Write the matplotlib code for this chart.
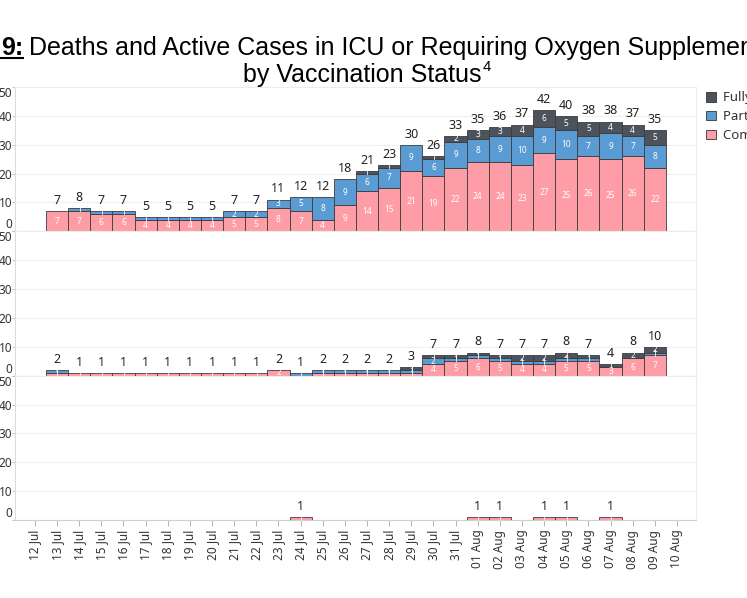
import matplotlib
matplotlib.use("Agg")
import matplotlib.pyplot as plt
from matplotlib import font_manager
from matplotlib.patches import Patch
from matplotlib.lines import Line2D
import numpy as np

# --- данные ---
tick_labels = ["12 Jul", "13 Jul", "14 Jul", "15 Jul", "16 Jul", "17 Jul", "18 Jul",
               "19 Jul", "20 Jul", "21 Jul", "22 Jul", "23 Jul", "24 Jul", "25 Jul",
               "26 Jul", "27 Jul", "28 Jul", "29 Jul", "30 Jul", "31 Jul", "01 Aug",
               "02 Aug", "03 Aug", "04 Aug", "05 Aug", "06 Aug", "07 Aug", "08 Aug",
               "09 Aug", "10 Aug"]
bar_dates = ["13 Jul", "14 Jul", "15 Jul", "16 Jul", "17 Jul", "18 Jul", "19 Jul",
             "20 Jul", "21 Jul", "22 Jul", "23 Jul", "24 Jul", "25 Jul", "26 Jul",
             "27 Jul", "28 Jul", "29 Jul", "30 Jul", "31 Jul", "01 Aug", "02 Aug",
             "03 Aug", "04 Aug", "05 Aug", "06 Aug", "07 Aug", "08 Aug", "09 Aug"]

# верхняя панель
top_unvax = [7, 7, 6, 6, 4, 4, 4, 4, 5, 5, 8, 7, 4, 9, 14, 15, 21, 19, 22, 24, 24, 23, 27, 25, 26, 25, 26, 22]
top_part = [0, 1, 1, 1, 1, 1, 1, 1, 2, 2, 3, 5, 8, 9, 6, 7, 9, 6, 9, 8, 9, 10, 9, 10, 7, 9, 7, 8]
top_full = [0, 0, 0, 0, 0, 0, 0, 0, 0, 0, 0, 0, 0, 0, 1, 1, 0, 1, 2, 3, 3, 4, 6, 5, 5, 4, 4, 5]

# средняя панель
mid_unvax = [1, 1, 1, 1, 1, 1, 1, 1, 1, 1, 2, 0, 1, 1, 1, 1, 1, 4, 5, 6, 5, 4, 4, 5, 5, 3, 6, 7]
mid_part = [1, 0, 0, 0, 0, 0, 0, 0, 0, 0, 0, 1, 1, 1, 1, 1, 1, 2, 1, 1, 1, 1, 1, 1, 1, 0, 0, 1]
mid_full = [0, 0, 0, 0, 0, 0, 0, 0, 0, 0, 0, 0, 0, 0, 0, 0, 1, 1, 1, 1, 1, 2, 2, 2, 1, 1, 2, 2]

# нижняя панель
bot_unvax = [0, 0, 0, 0, 0, 0, 0, 0, 0, 0, 0, 1, 0, 0, 0, 0, 0, 0, 0, 1, 1, 0, 1, 1, 0, 1, 0, 0]
bot_part = [0] * 28
bot_full = [0] * 28

series_names = ["Fully vaccinated", "Partially vaccinated", "Completely unvaccinated"]
col_full = "#4d535c"
col_part = "#5b9bd3"
col_unvax = "#ff9da7"

# --- шрифты ---
names = {f.name for f in font_manager.fontManager.ttflist}
title_font = "Liberation Sans Narrow" if "Liberation Sans Narrow" in names else "Liberation Sans"
title_size = 21 if title_font == "Liberation Sans Narrow" else 18
plt.rcParams["font.family"] = ["Noto Sans", "DejaVu Sans"]

W, H = 747, 598
fig = plt.figure(figsize=(W / 100, H / 100), dpi=100)
gs = fig.add_gridspec(3, 1, left=15 / W, right=696 / W, top=1 - 87 / H, bottom=1 - 520 / H, hspace=0)

x_pos = np.array([tick_labels.index(d) for d in bar_dates])
panels = [(top_unvax, top_part, top_full), (mid_unvax, mid_part, mid_full), (bot_unvax, bot_part, bot_full)]

for k, (u, p, f) in enumerate(panels):
    ax = fig.add_subplot(gs[k])
    u, p, f = np.array(u), np.array(p), np.array(f)
    bottoms = [np.zeros(len(u)), u, u + p]
    for vals, bot, col in zip([u, p, f], bottoms, [col_unvax, col_part, col_full]):
        m = vals > 0
        ax.bar(x_pos[m], vals[m], bottom=bot[m], width=1.0, color=col,
               edgecolor="#3c3c3c", linewidth=0.6, zorder=3)
        for xx, v, b in zip(x_pos[m], vals[m], bot[m]):
            ax.text(xx, b + v / 2, str(v), ha="center", va="center", color="white",
                    fontsize=6, zorder=4)
    total = u + p + f
    for xx, t in zip(x_pos, total):
        if t > 0:
            ax.annotate(str(t), (xx, t), xytext=(0, 3), textcoords="offset points",
                        ha="center", va="bottom", fontsize=9, color="#222222", zorder=5)

    ax.set_xlim(-0.9, 29.86)
    ax.set_ylim(0, 50)
    ax.set_yticks([0, 10, 20, 30, 40, 50])
    ax.set_yticklabels(["0", "10", "20", "30", "40", "50"], fontsize=8.5, color="#333333")
    labs = ax.get_yticklabels()
    labs[0].set_va("bottom")
    labs[-1].set_va("top")
    ax.tick_params(axis="y", length=2, width=0.6, color="#bbbbbb", pad=0)
    ax.grid(axis="y", color="#efefef", linewidth=0.8, zorder=0)
    for s in ["top", "right"]:
        ax.spines[s].set_color("#ececec")
        ax.spines[s].set_linewidth(0.8)
    ax.spines["left"].set_color("#dcdcdc")
    ax.spines["bottom"].set_color("#cfcfcf")
    ax.spines["left"].set_linewidth(0.8)
    ax.spines["bottom"].set_linewidth(0.8)

    ax.set_xticks(range(len(tick_labels)))
    if k == 2:
        ax.set_xticklabels(tick_labels, rotation=90, fontsize=8.5, color="#333333")
        ax.tick_params(axis="x", length=4, width=0.6, color="#aaaaaa", pad=3)
    else:
        ax.tick_params(axis="x", length=0, labelbottom=False)

# --- легенда ---
handles = [Patch(facecolor=c, edgecolor="#333333", linewidth=0.6) for c in [col_full, col_part, col_unvax]]
fig.legend(handles, series_names, loc="upper left", bbox_to_anchor=(701 / W, 1 - 86 / H),
           frameon=False, fontsize=9.5, handlelength=0.75, handleheight=0.75,
           handletextpad=0.5, labelspacing=0.45, borderaxespad=0, labelcolor="#333333")

# --- заголовок ---
renderer = fig.canvas.get_renderer()
y1 = 1 - 55 / H
t9 = fig.text(1 / W, y1, "9:", fontsize=title_size, fontweight="bold", family=title_font,
              va="baseline", ha="left")
bb = t9.get_window_extent(renderer)
fig.add_artist(Line2D([bb.x0 / W, bb.x1 / W], [y1 - 3 / H, y1 - 3 / H], color="black", linewidth=1.5))
fig.text(bb.x1 / W + 6 / W, y1, "Deaths and Active Cases in ICU or Requiring Oxygen Supplementation",
         fontsize=title_size, family=title_font, va="baseline", ha="left")
t2 = fig.text(362 / W, 1 - 82 / H, "by Vaccination Status", fontsize=title_size, family=title_font,
              va="baseline", ha="center")
bb2 = t2.get_window_extent(renderer)
fig.text(bb2.x1 / W + 1 / W, 1 - 71 / H, "4", fontsize=title_size * 0.6, family=title_font,
         va="baseline", ha="left")

fig.savefig("out.png", dpi=100)
